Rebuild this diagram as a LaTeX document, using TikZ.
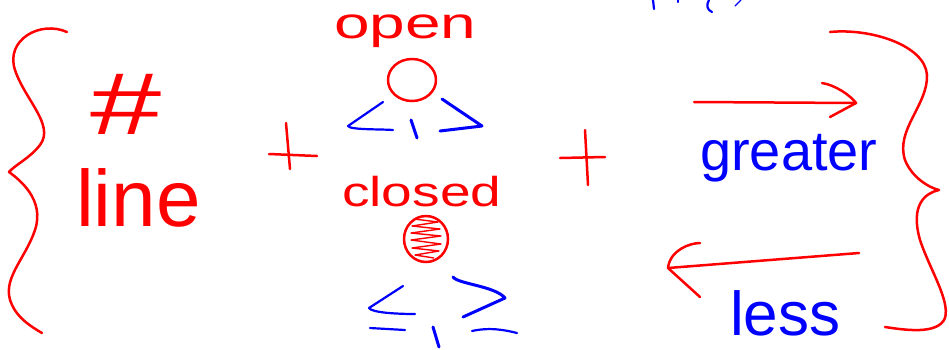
\documentclass[tikz,border=0pt]{standalone}
\usepackage{fontspec}
\setmainfont{Liberation Sans}
\definecolor{penred}{RGB}{255,0,0}
\definecolor{penblue}{RGB}{0,0,255}
\begin{document}
\begin{tikzpicture}[x=1pt,y=-1pt,
  redstroke/.style={draw=penred,line width=2.5pt,line cap=round,line join=round},
  bluestroke/.style={draw=penblue,line width=2.2pt,line cap=round,line join=round},
  redtext/.style={text=penred,inner sep=0pt},
  bluetext/.style={text=penblue,inner sep=0pt}]
\useasboundingbox (0,0) rectangle (949,349);

% clipped fragments of text at the top
\draw[bluestroke] (653,0) -- (654,9);
\draw[bluestroke] (678,0) -- (678,2);
\draw[bluestroke] (709,0) .. controls (706,5) and (707,10) .. (712,12);
\draw[bluestroke,line width=1.2pt] (735,6) -- (741,0);

% left brace
\draw[redstroke] (67,32) .. controls (40,20) and (5,40) .. (15,70)
  .. controls (25,100) and (55,125) .. (40,145)
  .. controls (30,158) and (15,165) .. (9,172)
  .. controls (20,180) and (45,200) .. (35,230)
  .. controls (25,260) and (0,280) .. (12,305)
  .. controls (18,318) and (30,326) .. (42,333);

% right brace
\draw[redstroke] (830,32) .. controls (870,28) and (925,45) .. (927,75)
  .. controls (928,105) and (895,130) .. (905,160)
  .. controls (912,178) and (930,188) .. (939,190)
  .. controls (925,193) and (910,205) .. (920,240)
  .. controls (930,270) and (950,300) .. (945,318)
  .. controls (938,335) and (905,330) .. (885,327);

% # and line
\node[redtext] (hash) at (126,104) {\fontsize{80}{80}\selectfont\scalebox{1.6}[1.1]{\#}};
\node[redtext,anchor=base west] (line) at (76,226) {\fontsize{80}{80}\selectfont line};

% plus signs
\draw[redstroke] (286,123) -- (290,169);
\draw[redstroke] (269,154) -- (317,156);
\draw[redstroke] (585,130) -- (588,185);
\draw[redstroke] (560,158) -- (605,157);

% open
\node[redtext,anchor=base west] (open) at (334,38) {\fontsize{40}{40}\selectfont\scalebox{1.6}[1.1]{open}};
\draw[redstroke] (412,80) ellipse [x radius=24, y radius=21];
% < , >
\draw[bluestroke] (383,102) -- (348,126) .. controls (350,130) and (380,129) .. (393,130);
\draw[bluestroke,line width=3pt] (411,120) -- (417,138);
\draw[bluestroke,line width=3pt] (442,99) -- (482,126) -- (440,131);

% closed
\node[redtext,anchor=base west] (closed) at (342,206) {\fontsize{38}{38}\selectfont\scalebox{1.45}[1.1]{closed}};
\draw[redstroke] (426,239) ellipse [x radius=22, y radius=23];
\draw[draw=penred,line width=1.4pt,line join=round]
  (414,219) -- (438,222) -- (412,226) -- (440,229) -- (411,233) -- (441,236)
  -- (411,240) -- (441,244) -- (412,248) -- (439,251) -- (415,255) -- (434,258);
% <= , >=
\draw[bluestroke] (403,286) -- (369,308) .. controls (372,313) and (400,314) .. (415,314);
\draw[bluestroke] (370,328) -- (405,330);
\draw[bluestroke,line width=3pt] (433,327) -- (439,347);
\draw[bluestroke,line width=3pt] (453,277) .. controls (458,284) and (495,286) .. (505,298)
  -- (463,317);
\draw[bluestroke] (472,331) .. controls (490,327) and (505,330) .. (517,333);

% greater arrow
\coordinate (g1) at (694,102);
\coordinate (g2) at (856,103);
\draw[redstroke] (g1) -- (g2);
\draw[redstroke] (822,83) .. controls (835,85) and (850,95) .. (g2) -- (830,117);
\node[bluetext,anchor=base west] (greater) at (700,170) {\fontsize{56}{56}\selectfont greater};

% less arrow
\coordinate (l1) at (859,253);
\coordinate (l2) at (668,268);
\draw[redstroke] (l1) -- (l2);
\draw[redstroke] (700,243) .. controls (690,243) and (670,250) .. (l2) -- (700,297);
\node[bluetext,anchor=base west] (less) at (730,335) {\fontsize{62}{62}\selectfont less};
\end{tikzpicture}
\end{document}
